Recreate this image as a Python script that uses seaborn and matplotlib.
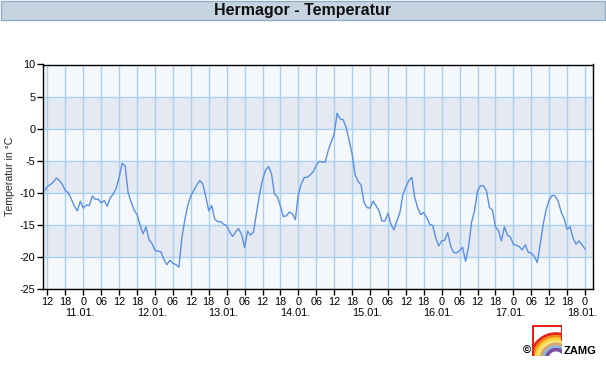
import matplotlib
matplotlib.use("Agg")
import matplotlib.pyplot as plt
from matplotlib.patches import Rectangle, Arc
import seaborn as sns
import pandas as pd

# ---- data (hours since 10.01. 00:00, hourly readings) ----
start_hour = 11
temps = [
    -9.7, -9.0, -8.7, -8.3, -7.7, -8.1, -8.7, -9.7, -10.0, -11.0, -12.1, -12.8,
    -11.3, -12.4, -11.9, -12.0, -10.5, -11.0, -11.0, -11.6, -11.2, -12.1, -10.8, -10.2,
    -9.3, -7.6, -5.4, -5.8, -10.0, -11.4, -12.7, -13.4, -15.0, -16.4, -15.3, -17.3,
    -17.9, -19.0, -19.1, -19.2, -20.4, -21.2, -20.5, -21.0, -21.2, -21.6, -17.0, -14.2,
    -11.9, -10.5, -9.6, -8.8, -8.1, -8.6, -10.6, -12.8, -12.0, -14.1, -14.5, -14.5,
    -14.9, -15.1, -16.1, -16.8, -16.1, -15.6, -16.5, -18.5, -16.0, -16.6, -16.1, -13.1,
    -10.3, -8.0, -6.5, -5.9, -7.0, -10.2, -10.6, -12.1, -13.7, -13.6, -13.0, -13.3,
    -14.2, -10.3, -8.6, -7.6, -7.6, -7.2, -6.7, -5.7, -5.1, -5.2, -5.2, -3.4,
    -2.1, -0.8, 2.4, 1.5, 1.4, 0.2, -1.8, -3.9, -7.2, -8.2, -8.8, -11.5,
    -12.3, -12.4, -11.3, -12.0, -12.8, -14.4, -14.4, -13.2, -14.9, -15.8, -14.4, -13.1,
    -10.3, -9.1, -8.1, -7.6, -10.8, -12.4, -13.4, -13.1, -13.9, -14.9, -15.1, -17.0,
    -18.3, -17.5, -17.4, -16.2, -18.3, -19.3, -19.4, -19.0, -18.5, -20.7, -18.4, -14.6,
    -12.8, -9.7, -8.9, -8.9, -9.7, -12.3, -12.7, -15.3, -15.9, -17.5, -15.3, -16.6,
    -16.9, -18.0, -18.2, -18.4, -18.9, -18.1, -19.3, -19.4, -19.9, -20.9, -18.0, -14.9,
    -12.6, -11.1, -10.4, -10.5, -11.3, -13.0, -14.0, -15.7, -15.3, -17.1, -18.0, -17.5,
    -18.1, -18.8,
]
hours = list(range(start_hour, start_hour + len(temps)))

tick_hours = list(range(12, 193, 6))
tick_labels = ["12", "18", "0", "06"] * 7 + ["12", "18", "0"]
date_hours = [24, 48, 72, 96, 120, 144, 168, 192]
date_labels = ["11.01.", "12.01.", "13.01.", "14.01.", "15.01.", "16.01.", "17.01.", "18.01."]
y_ticks = [10, 5, 0, -5, -10, -15, -20, -25]

title = "Hermagor - Temperatur"
ylabel = "Temperatur in °C"

# ---- style ----
sns.set_style("white")
plt.rcParams["font.family"] = ["Liberation Sans", "DejaVu Sans"]

W, H = 606, 367
fig = plt.figure(figsize=(W / 100, H / 100), dpi=100)
fig.patch.set_facecolor("white")

# title bar
bar_h = 20
fig.patches.append(Rectangle((0.5 / W, 1 - bar_h / H), 1 - 1.5 / W, bar_h / H - 0.5 / H,
                             transform=fig.transFigure, facecolor="#c6d4e1",
                             edgecolor="#94aec6", linewidth=1.0, zorder=0))
fig.text(0.5, 1 - 10.5 / H, title, ha="center", va="center", fontsize=11.5,
         fontweight="bold", color="#111111")

left, right, top, bottom = 43, 592.5, 64.5, 289
ax = fig.add_axes([left / W, 1 - bottom / H, (right - left) / W, (bottom - top) / H])

df = pd.DataFrame({"hour": hours, "temp": temps})
sns.lineplot(data=df, x="hour", y="temp", ax=ax, color="#5b8fe3", linewidth=1.0, zorder=3)

ax.set_xlim(10.5, 194.5)
ax.set_ylim(-25, 10)

# alternating bands
band_colors = ["#f5f8fb", "#e5eaf2"]
for i in range(len(y_ticks) - 1):
    ax.axhspan(y_ticks[i + 1], y_ticks[i], facecolor=band_colors[i % 2],
               edgecolor="none", zorder=0)

ax.set_xticks(tick_hours)
ax.set_xticklabels(tick_labels)
ax.set_yticks(y_ticks)
ax.set_yticklabels([str(v) for v in y_ticks])
ax.grid(True, color="#a9d0ee", linewidth=1.0, zorder=1)
ax.set_axisbelow(True)

for s in ax.spines.values():
    s.set_color("black")
    s.set_linewidth(1.0)
    s.set_visible(True)

ax.tick_params(axis="both", direction="out", length=4, width=1, color="black",
               labelsize=7.8, pad=1.5, labelcolor="black")
ax.tick_params(axis="x", bottom=True)
ax.tick_params(axis="y", left=True)
ax.set_xlabel("")
ax.set_ylabel(ylabel, fontsize=7.6, labelpad=3)

for h, lab in zip(date_hours, date_labels):
    ax.text(h - 1, -0.085, lab, transform=ax.get_xaxis_transform(), ha="center",
            va="top", fontsize=7.8, color="black")

# ZAMG logo
lax = fig.add_axes([532 / W, 1 - 356 / H, 30 / W, 31 / H])
lax.set_xlim(0, 30)
lax.set_ylim(0, 31)
lax.axis("off")
lax.plot([0.5, 0.5, 29.5, 29.5], [0, 30.5, 30.5, 16], color="#e3231b", linewidth=1.5)
rain = ["#e3231b", "#f08a1c", "#f7d23a", "#f5e27a", "#d9a46a", "#8fb8e0", "#7b4fa0"]
for i, c in enumerate(rain):
    r = 25 - i * 2.6
    lax.add_patch(Arc((24, -3), 2 * r, 2 * r, theta1=60 if i == 0 else 40, theta2=180,
                      color=c, linewidth=2.6))
fig.text(531 / W, 1 - 351 / H, "©", ha="right", va="center", fontsize=8,
         fontweight="bold", color="black")
fig.text(564 / W, 1 - 351 / H, "ZAMG", ha="left", va="center", fontsize=8,
         fontweight="bold", color="black")

fig.savefig("out.png", dpi=100)
